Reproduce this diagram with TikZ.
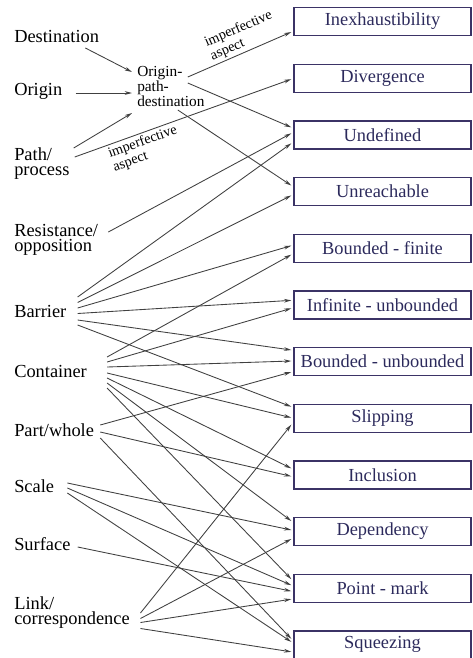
\documentclass[tikz,border=0pt]{standalone}
\usepackage{fontspec}
\setmainfont{Liberation Serif}
\usetikzlibrary{arrows.meta, positioning}

\definecolor{boxedge}{HTML}{3B3366}
\definecolor{boxtext}{HTML}{2C2A5C}
\definecolor{linkgray}{HTML}{404040}

\begin{document}
\begin{tikzpicture}[
        x=0.75pt, y=-0.75pt,
        >={Stealth[length=5.5pt, width=2.8pt]},
        node distance=20.5pt,
        % Define Styles
        source/.style={anchor=west, inner sep=0pt, align=left, font=\fontsize{13.8pt}{11.25pt}\selectfont},
        hub/.style={anchor=west, inner sep=0pt, align=left, font=\fontsize{11.5pt}{11.25pt}\selectfont},
        schema/.style={rectangle, draw=boxedge, line width=1pt, text=boxtext, minimum width=132.75pt, minimum height=21pt, inner sep=0pt, font=\fontsize{13.8pt}{14pt}\selectfont},
        arrow/.style={->, draw=linkgray, line width=0.65pt},
        aspect/.style={sloped, align=left, inner sep=1.5pt, font=\fontsize{10.7pt}{11pt}\selectfont}
    ]

    \useasboundingbox (0,0) rectangle (473,658);

    % --- SOURCE DOMAINS (left column) ---
    \node[source] (dest) at (14,36.5) {Destination};
    \node[source] (origin) at (14,91) {Origin};
    \node[source] (path) at (14,164) {Path/\\process};
    \node[source] (resist) at (14,239.5) {Resistance/\\opposition};
    \node[source] (barrier) at (14,311.5) {Barrier};
    \node[source] (container) at (14,371.5) {Container};
    \node[source] (part) at (14,430) {Part/whole};
    \node[source] (scale) at (14,486) {Scale};
    \node[source] (surface) at (14,544) {Surface};
    \node[source] (link) at (14,612.5) {Link/\\correspondence};

    \node[hub] (opd) at (137,86) {Origin-\\path-\\destination};

    % --- TARGET SCHEMAS (right column) ---
    \node[schema] (inexh) at (382.5,21.5) {Inexhaustibility};
    \node[schema, below=of inexh] (diverg) {Divergence};
    \node[schema, below=of diverg] (undef) {Undefined};
    \node[schema, below=of undef] (unreach) {Unreachable};
    \node[schema, below=of unreach] (bfin) {Bounded - finite};
    \node[schema, below=of bfin] (iunb) {Infinite - unbounded};
    \node[schema, below=of iunb] (bunb) {Bounded - unbounded};
    \node[schema, below=of bunb] (slip) {Slipping};
    \node[schema, below=of slip] (incl) {Inclusion};
    \node[schema, below=of incl] (dep) {Dependency};
    \node[schema, below=of dep] (point) {Point - mark};
    \node[schema, below=of point] (squeeze) {Squeezing};

    % --- INTO THE HUB ---
    \draw[arrow] ([shift={(-14,11.5)}]dest.east) -- ([shift={(-5,-14)}]opd.west);
    \draw[arrow] ([shift={(13,2)}]origin.east) -- ([shift={(-5,7)}]opd.west);
    \draw[arrow] ([shift={(4,-16)}]path.east) -- ([shift={(-5,27)}]opd.west);

    % --- OUT OF THE HUB ---
    \draw[arrow] ([shift={(-17,-9)}]opd.east) -- node[aspect, above, pos=0.58] {imperfective\\aspect} ([shift={(-2,10.5)}]inexh.west);
    \draw[arrow] ([shift={(-17,-3)}]opd.east) -- ([shift={(-2,-7.5)}]undef.west);
    \draw[arrow] ([shift={(-27,24)}]opd.east) -- ([shift={(-2,-6)}]unreach.west);
    \draw[arrow] ([shift={(5,-7)}]path.east) -- node[aspect, below, pos=0.30] {imperfective\\aspect} ([shift={(-2,1)}]diverg.west);

    % --- RESISTANCE / BARRIER ---
    \draw[arrow] ([shift={(10,-7.5)}]resist.east) -- ([shift={(-2,-1.5)}]undef.west);
    \draw[arrow] ([shift={(11,-14.5)}]barrier.east) -- ([shift={(-2,8.5)}]undef.west);
    \draw[arrow] ([shift={(11,-9)}]barrier.east) -- ([shift={(-2,4)}]unreach.west);
    \draw[arrow] ([shift={(11,-3.5)}]barrier.east) -- ([shift={(-2,-2.5)}]bfin.west);
    \draw[arrow] ([shift={(11,2)}]barrier.east) -- ([shift={(-2,-4.5)}]iunb.west);
    \draw[arrow] ([shift={(11,8.5)}]barrier.east) -- ([shift={(-2,-11.5)}]bunb.west);
    \draw[arrow] ([shift={(11,13.5)}]barrier.east) -- ([shift={(-2,-11.5)}]slip.west);

    % --- CONTAINER ---
    \draw[arrow] ([shift={(20,-14.5)}]container.east) -- ([shift={(-2,6.5)}]bfin.west);
    \draw[arrow] ([shift={(20,-9.5)}]container.east) -- ([shift={(-2,3.5)}]iunb.west);
    \draw[arrow] ([shift={(20,-4.5)}]container.east) -- ([shift={(-2,-0.5)}]bunb.west);
    \draw[arrow] ([shift={(20,1.5)}]container.east) -- ([shift={(-2,-0.5)}]slip.west);
    \draw[arrow] ([shift={(20,6.5)}]container.east) -- ([shift={(-2,-6.5)}]incl.west);
    \draw[arrow] ([shift={(20,11.5)}]container.east) -- ([shift={(-2,-10.5)}]dep.west);
    \draw[arrow] ([shift={(20,16.5)}]container.east) -- ([shift={(-2,-9)}]point.west);

    % --- PART/WHOLE, SCALE, SURFACE ---
    \draw[arrow] ([shift={(6,-5)}]part.east) -- ([shift={(-2,10.5)}]bunb.west);
    \draw[arrow] ([shift={(6,2)}]part.east) -- ([shift={(-2,1.5)}]incl.west);
    \draw[arrow] ([shift={(6,8)}]part.east) -- ([shift={(-2,-6)}]squeeze.west);
    \draw[arrow] ([shift={(13,-3)}]scale.east) -- ([shift={(-2,-1.5)}]dep.west);
    \draw[arrow] ([shift={(13,2)}]scale.east) -- ([shift={(-2,-3)}]point.west);
    \draw[arrow] ([shift={(13,7)}]scale.east) -- ([shift={(-2,-3)}]squeeze.west);
    \draw[arrow] ([shift={(7,3)}]surface.east) -- ([shift={(-2,3)}]point.west);

    % --- LINK/CORRESPONDENCE ---
    \draw[arrow] ([shift={(10.5,0.5)}]link.east) -- ([shift={(-2,6.5)}]slip.west);
    \draw[arrow] ([shift={(10.5,6)}]link.east) -- ([shift={(-2,7.5)}]dep.west);
    \draw[arrow] ([shift={(10.5,10)}]link.east) -- ([shift={(-2,11)}]point.west);
    \draw[arrow] ([shift={(10.5,16)}]link.east) -- ([shift={(-2,7)}]squeeze.west);

\end{tikzpicture}
\end{document}
